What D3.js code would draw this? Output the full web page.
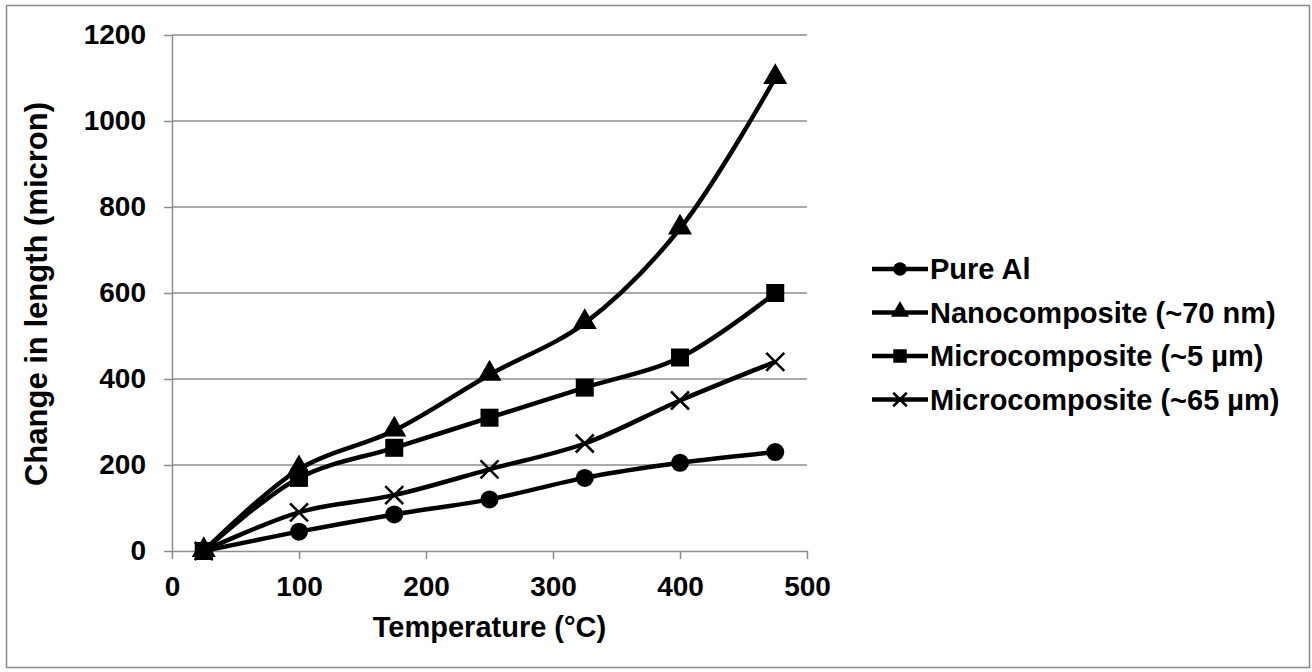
<!DOCTYPE html>
<html>
<head>
<meta charset="utf-8">
<script src="https://cdn.jsdelivr.net/npm/d3@7"></script>
<style>
  body { margin: 0; background: #fff; }
  text { font-family: "Liberation Sans", Arial, sans-serif; font-weight: bold; fill: #000; }
</style>
</head>
<body>
<div id="chart"></div>
<script>
// data
const temps = [25, 100, 175, 250, 325, 400, 475];
const pureAl = [0, 45, 85, 120, 170, 205, 230];
const nano70 = [0, 190, 280, 410, 530, 750, 1100];
const micro5 = [0, 170, 240, 310, 380, 450, 600];
const micro65 = [0, 90, 130, 190, 250, 350, 440];
const seriesNames = ["Pure Al", "Nanocomposite (~70 nm)", "Microcomposite (~5 µm)", "Microcomposite (~65 µm)"];
const markers = ["circle", "triangle", "square", "cross"];
const xTicks = [0, 100, 200, 300, 400, 500];
const yTicks = [0, 200, 400, 600, 800, 1000, 1200];

const W = 1312, H = 672;
let margin = {top: 35, left: 172, right: 505, bottom: 121};

const svg = d3.select("#chart").append("svg")
  .attr("width", W).attr("height", H);

// outer border
svg.append("rect")
  .attr("x", 6.5).attr("y", 5.5).attr("width", W - 9).attr("height", H - 10)
  .attr("fill", "none").attr("stroke", "#898989").attr("stroke-width", 1.5);

let x = d3.scaleLinear().domain([0, 500]).range([margin.left, W - margin.right]);
let y = d3.scaleLinear().domain([0, 1200]).range([H - margin.bottom, margin.top]);

// gridlines
svg.append("g").selectAll("line")
  .data(yTicks.slice(1))
  .enter().append("line")
    .attr("x1", x(0)).attr("x2", x(500))
    .attr("y1", d => y(d)).attr("y2", d => y(d))
    .attr("stroke", "#8c8c8c").attr("stroke-width", 1.5);

// axes
const xAxis = svg.append("g")
  .attr("transform", "translate(0," + y(0) + ")")
  .call(d3.axisBottom(x).tickValues(xTicks).tickFormat(d3.format("d")).tickSize(8).tickSizeOuter(0).tickPadding(17));
const yAxis = svg.append("g")
  .attr("transform", "translate(" + x(0) + ",0)")
  .call(d3.axisLeft(y).tickValues(yTicks).tickFormat(d3.format("d")).tickSize(8).tickSizeOuter(0).tickPadding(18));

[xAxis, yAxis].forEach(a => {
  a.select(".domain").attr("stroke", "#8c8c8c").attr("stroke-width", 1.5);
  a.selectAll(".tick line").attr("stroke", "#8c8c8c").attr("stroke-width", 1.5);
  a.selectAll(".tick text")
    .style("font-family", "'Liberation Sans', Arial, sans-serif")
    .style("font-weight", "bold").style("font-size", "28px").attr("fill", "#000");
});

// axis titles
svg.append("text")
  .attr("x", x(250)).attr("y", 637)
  .attr("text-anchor", "middle").style("font-size", "29px")
  .text("Temperature (°C)");
svg.append("text")
  .attr("transform", "translate(47,294)rotate(-90)")
  .attr("text-anchor", "middle").style("font-size", "31px")
  .text("Change in length (micron)");

// lines
const allSeries = [pureAl, nano70, micro5, micro65];
const line = d3.line()
  .x((d, i) => x(temps[i]))
  .y(d => y(d))
  .curve(d3.curveCatmullRom.alpha(0.5));

const plot = svg.append("g");
allSeries.forEach(vals => {
  plot.append("path")
    .attr("d", line(vals))
    .attr("fill", "none").attr("stroke", "#000").attr("stroke-width", 4.5)
    .attr("stroke-linejoin", "round");
});

function drawMarker(g, type, cx, cy, small) {
  let k = small ? 0.75 : 1;
  if (type === "circle") {
    g.append("circle").attr("cx", cx).attr("cy", cy).attr("r", 9 * k).attr("fill", "#000");
  } else if (type === "triangle") {
    g.append("path")
      .attr("d", d3.symbol().type(d3.symbolTriangle).size(250 * k * k)())
      .attr("transform", "translate(" + cx + "," + (cy - 1) + ")")
      .attr("fill", "#000");
  } else if (type === "square") {
    let s = 18 * k;
    g.append("rect").attr("x", cx - s / 2).attr("y", cy - s / 2)
      .attr("width", s).attr("height", s).attr("fill", "#000");
  } else {
    let s = 9 * k;
    g.append("path")
      .attr("d", "M" + (cx - s) + "," + (cy - s) + "L" + (cx + s) + "," + (cy + s) +
                 "M" + (cx - s) + "," + (cy + s) + "L" + (cx + s) + "," + (cy - s))
      .attr("stroke", "#000").attr("stroke-width", 2.5).attr("fill", "none");
  }
}

allSeries.forEach((vals, si) => {
  vals.forEach((v, i) => drawMarker(plot, markers[si], x(temps[i]), y(v), false));
});

// legend
const legend = svg.append("g");
seriesNames.forEach((name, i) => {
  let ly = 269 + i * 43.5;
  legend.append("line")
    .attr("x1", 872).attr("x2", 928).attr("y1", ly).attr("y2", ly)
    .attr("stroke", "#000").attr("stroke-width", 4.5);
  drawMarker(legend, markers[i], 900, ly, true);
  legend.append("text")
    .attr("x", 930).attr("y", ly + 10)
    .style("font-size", "29px")
    .text(name);
});
</script>
</body>
</html>
